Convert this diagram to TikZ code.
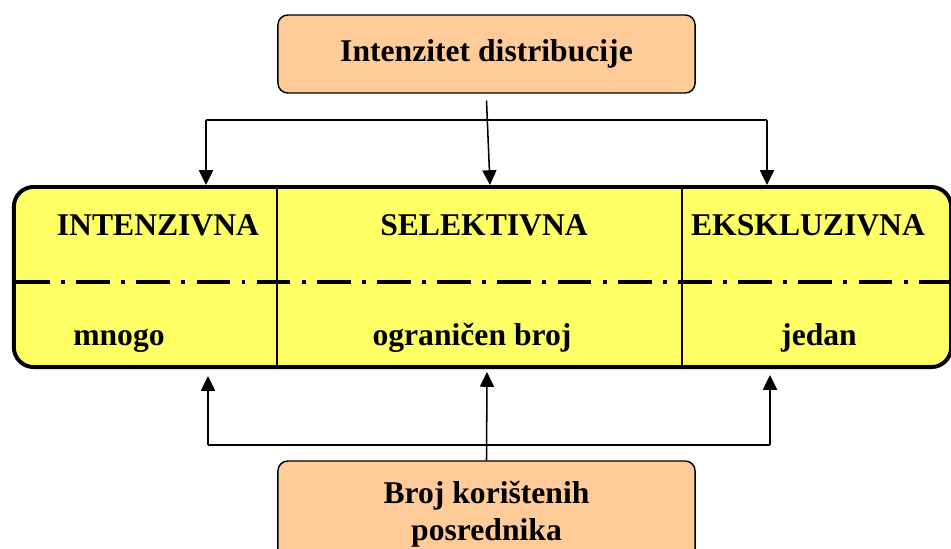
\documentclass[tikz,border=0pt]{standalone}
\usepackage{fontspec}
\setmainfont{Liberation Serif}
\usetikzlibrary{arrows.meta}
\definecolor{peach}{HTML}{FFCC99}
\definecolor{lemon}{HTML}{FFFF66}

\begin{document}
\begin{tikzpicture}[x=0.025cm, y=-0.025cm,
		font=\bfseries\fontsize{22.5}{26.3}\selectfont,
		peachbox/.style={draw, line width=1pt, fill=peach, rounded corners=7pt, minimum width=10.425cm, align=center},
		arr/.style={line width=1.1pt, -{Triangle[width=10pt,length=10.5pt]}},
		lbl/.style={anchor=base}]
		\useasboundingbox (0,0) rectangle (951,548);
		% the big yellow box
		\node[draw, line width=2.8pt, fill=lemon, rounded corners=14pt, minimum width=23.425cm, minimum height=4.5cm] (d) at (482.5,277) {};
		\draw[line width=1.5pt] (277,189) -- (277,366);
		\draw[line width=1.5pt] (682,189) -- (682,366);
		\draw[line width=2.8pt, dash pattern=on 24pt off 8pt on 2.8pt off 8pt] (16,282) -- (949,282);
		\node[lbl] (intv) at (158,235) {INTENZIVNA};
		\node[lbl] (selv) at (484,235) {SELEKTIVNA};
		\node[lbl] (eksv) at (808,235) {EKSKLUZIVNA};
		\node[lbl] (mnogo) at (119,345) {mnogo};
		\node[lbl] (ogr) at (472,345) {ograničen broj};
		\node[lbl] (jedan) at (819,345) {jedan};
		% the two peach boxes
		\node[peachbox, minimum height=1.95cm] (intenz) at (486.5,54) {Intenzitet distribucije};
		\node[peachbox, minimum height=2.65cm] (broj) at (486.5,514) {Broj korištenih\\posrednika};
		% arrows from the top
		\coordinate (tl) at (206,120);
		\coordinate (tr) at (767,120);
		\coordinate (tlt) at (206,185);
		\coordinate (trt) at (767,185);
		\coordinate (tm) at (490,185);
		\draw[line width=1.1pt] (tl) -- (tr);
		\draw[arr] (tl) -- (tlt);
		\draw[arr] (tr) -- (trt);
		\draw[arr] ([shift={(0,7)}]intenz.south) -- (tm);
		% arrows from the bottom
		\coordinate (bl) at (208,445);
		\coordinate (br) at (770,445);
		\coordinate (blt) at (208,376);
		\coordinate (brt) at (770,375);
		\coordinate (bm) at (487,372);
		\draw[line width=1.1pt] (bl) -- (br);
		\draw[arr] (bl) -- (blt);
		\draw[arr] (br) -- (brt);
		\draw[arr] (broj.north) -- (bm);
\end{tikzpicture}
\end{document}
